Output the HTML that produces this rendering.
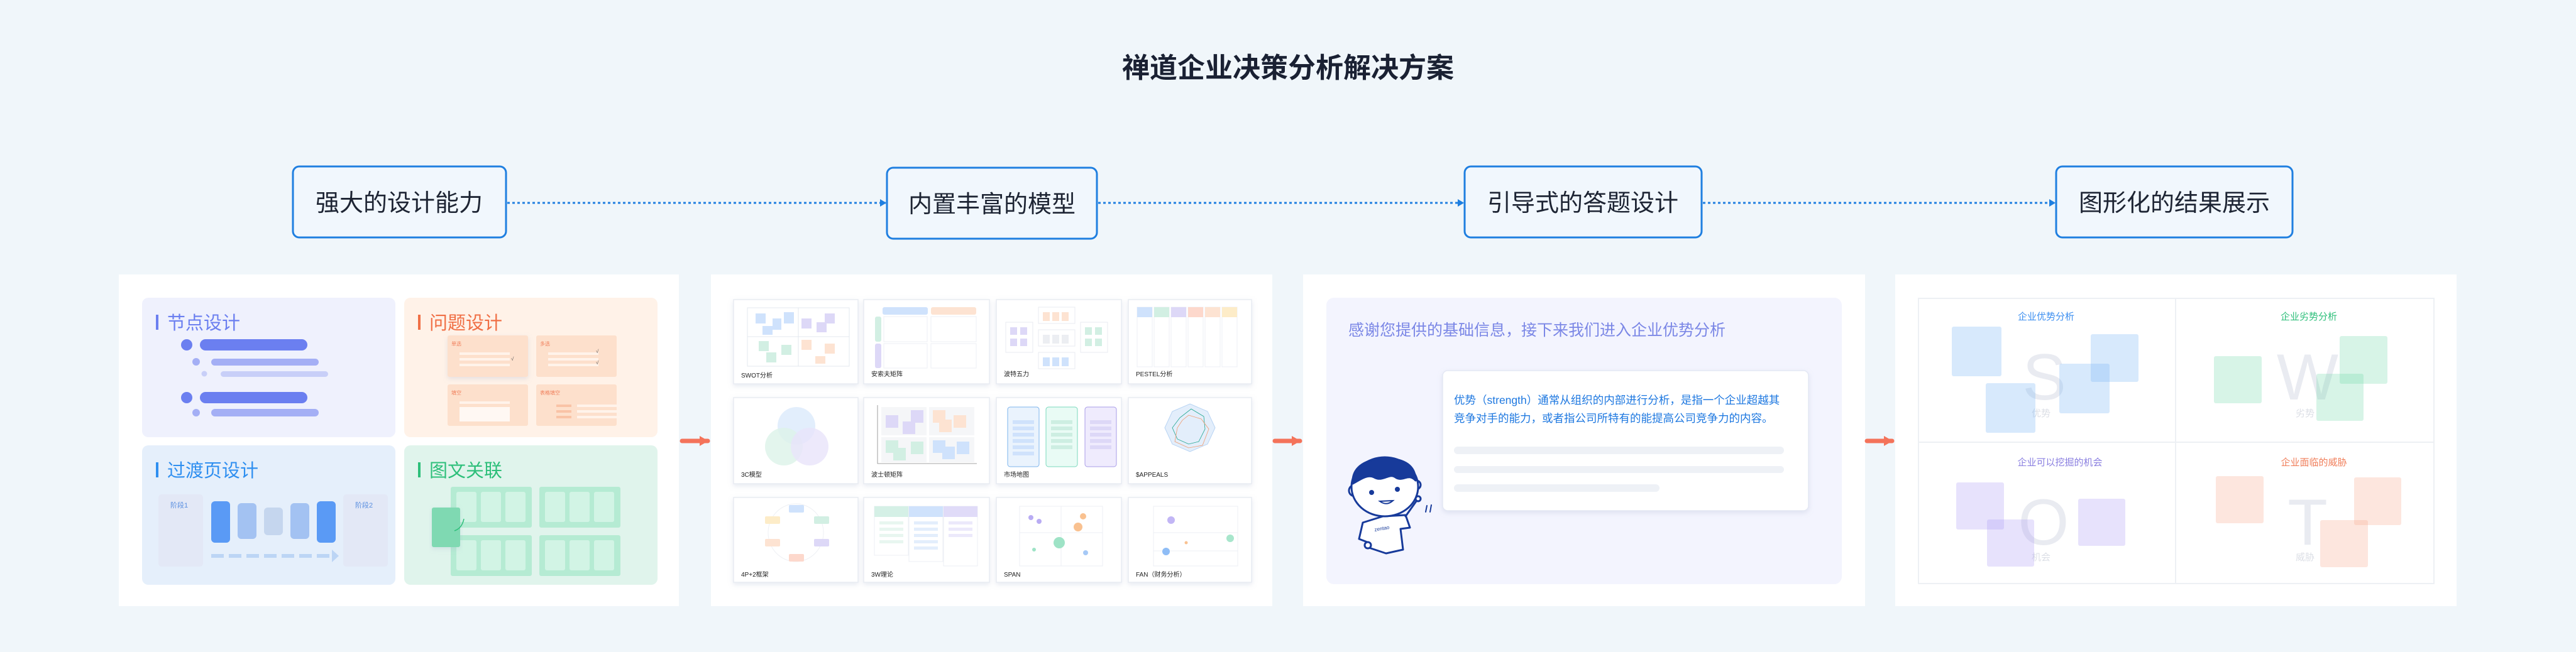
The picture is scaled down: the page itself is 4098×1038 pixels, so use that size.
<!DOCTYPE html>
<html><head><meta charset="utf-8"><style>
html,body{margin:0;padding:0;background:#f0f6fa;}
svg{display:block;}
text{font-family:"Liberation Sans","Noto Sans CJK SC",sans-serif;}
</style></head><body>
<svg width="4098" height="1038" viewBox="0 0 4098 1038" xmlns="http://www.w3.org/2000/svg">
<defs>
<marker id="ab" markerWidth="10" markerHeight="12" refX="9" refY="6" orient="auto" markerUnits="userSpaceOnUse"><path d="M0,0 L10,6 L0,12 Z" fill="#1f7fe0"/></marker>
<marker id="ao" markerWidth="14" markerHeight="16" refX="13" refY="8" orient="auto" markerUnits="userSpaceOnUse"><path d="M0,0 L14,8 L0,16 Z" fill="#f4735a"/></marker>
<filter id="sh" x="-10%" y="-10%" width="120%" height="130%"><feDropShadow dx="0" dy="3" stdDeviation="4" flood-color="#9aa8c8" flood-opacity="0.25"/></filter>
</defs>
<rect width="4098" height="1038" fill="#f0f6fa"/>
<text x="2049" y="123" font-size="44" font-weight="bold" fill="#1a2133" text-anchor="middle">禅道企业决策分析解决方案</text>

<!-- nodes -->
<g font-size="38" fill="#1d2433" text-anchor="middle">
<rect x="466" y="265" width="339" height="113" rx="10" fill="#f1f7fd" stroke="#1f7fe0" stroke-width="3"/>
<text x="635" y="336">强大的设计能力</text>
<rect x="1411" y="267" width="334" height="113" rx="10" fill="#f1f7fd" stroke="#1f7fe0" stroke-width="3"/>
<text x="1578" y="338">内置丰富的模型</text>
<rect x="2330" y="265" width="377" height="113" rx="10" fill="#f1f7fd" stroke="#1f7fe0" stroke-width="3"/>
<text x="2518" y="336">引导式的答题设计</text>
<rect x="3271" y="265" width="376" height="113" rx="10" fill="#f1f7fd" stroke="#1f7fe0" stroke-width="3"/>
<text x="3459" y="336">图形化的结果展示</text>
</g>
<g stroke="#1f7fe0" stroke-width="3" stroke-dasharray="4 4" fill="none">
<line x1="807" y1="323" x2="1409" y2="323" marker-end="url(#ab)"/>
<line x1="1747" y1="323" x2="2328" y2="323" marker-end="url(#ab)"/>
<line x1="2709" y1="323" x2="3269" y2="323" marker-end="url(#ab)"/>
</g>

<!-- panels -->
<rect x="189" y="437" width="891" height="528" fill="#ffffff"/>
<rect x="1131" y="437" width="893" height="528" fill="#ffffff"/>
<rect x="2073" y="437" width="894" height="528" fill="#ffffff"/>
<rect x="3015" y="437" width="893" height="528" fill="#ffffff"/>
<g stroke="#f4735a" stroke-width="7" stroke-linecap="round">
<line x1="1085" y1="702" x2="1126" y2="702" marker-end="url(#ao)"/>
<line x1="2028" y1="702" x2="2068" y2="702" marker-end="url(#ao)"/>
<line x1="2970" y1="702" x2="3010" y2="702" marker-end="url(#ao)"/>
</g>

<!-- PANEL 1 -->
<rect x="226" y="474" width="403" height="222" rx="10" fill="#eff1fd"/>
<rect x="643" y="474" width="403" height="222" rx="10" fill="#fff2e8"/>
<rect x="226" y="709" width="403" height="222" rx="10" fill="#e5effb"/>
<rect x="643" y="709" width="403" height="222" rx="10" fill="#e0f4ec"/>
<rect x="248" y="501" width="4" height="24" fill="#6b7ff0"/>
<text x="266" y="524" font-size="29" fill="#6b7ff0">节点设计</text>
<rect x="665" y="501" width="4" height="24" fill="#f06f45"/>
<text x="683" y="524" font-size="29" fill="#f06f45">问题设计</text>
<rect x="248" y="736" width="4" height="24" fill="#2f8ff0"/>
<text x="266" y="759" font-size="29" fill="#2f8ff0">过渡页设计</text>
<rect x="665" y="736" width="4" height="24" fill="#2dbf7a"/>
<text x="683" y="759" font-size="29" fill="#2dbf7a">图文关联</text>
<!-- card1 -->
<g transform="translate(226,474)">
<ellipse cx="71" cy="75" rx="9" ry="9" fill="#6b7ff0"/><rect x="92" y="66" width="171" height="18" rx="9" fill="#6b7ff0"/>
<circle cx="86" cy="102" r="6" fill="#a4aff5"/><rect x="110" y="97" width="171" height="11" rx="5.5" fill="#a4aff5"/>
<circle cx="99" cy="121" r="4.5" fill="#c8cff8"/><rect x="125" y="117" width="171" height="9" rx="4.5" fill="#c8cff8"/>
<circle cx="71" cy="159" r="9" fill="#6b7ff0"/><rect x="92" y="150" width="171" height="18" rx="9" fill="#6b7ff0"/>
<circle cx="86" cy="183" r="6" fill="#a4aff5"/><rect x="110" y="177" width="171" height="12" rx="6" fill="#a4aff5"/>
</g>
<!-- card2 -->
<g transform="translate(643,474)" font-size="8" fill="#f07e5a">
<rect x="69" y="60" width="128" height="66" rx="3" fill="#fde0cc" filter="url(#sh)"/>
<rect x="210" y="60" width="128" height="66" rx="3" fill="#fde0cc"/>
<rect x="69" y="138" width="128" height="66" rx="3" fill="#fde0cc"/>
<rect x="210" y="138" width="128" height="66" rx="3" fill="#fde0cc"/>
<text x="75" y="76">单选</text><text x="216" y="76">多选</text><text x="75" y="154">填空</text><text x="216" y="154">表格填空</text>
<g fill="#fff3ea"><rect x="88" y="87" width="80" height="4"/><rect x="88" y="96" width="80" height="4"/><rect x="88" y="105" width="80" height="4"/>
<rect x="229" y="87" width="80" height="4"/><rect x="229" y="96" width="80" height="4"/><rect x="229" y="105" width="80" height="4"/>
<rect x="88" y="165" width="80" height="4"/><rect x="88" y="174" width="80" height="23" fill="#fff8f3"/>
<rect x="275" y="170" width="68" height="4"/><rect x="275" y="179" width="68" height="4"/><rect x="275" y="188" width="68" height="4"/></g>
<g fill="#f9c3a6"><rect x="242" y="170" width="24" height="4"/><rect x="242" y="179" width="24" height="4"/><rect x="242" y="188" width="24" height="4"/></g>
<text x="170" y="100" fill="#555">√</text><text x="305" y="88" fill="#555">√</text><text x="305" y="106" fill="#555">√</text>
</g>
<!-- card3 -->
<g transform="translate(226,709)">
<rect x="26" y="78" width="71" height="115" rx="5" fill="#e3e8f6"/>
<rect x="320" y="78" width="71" height="115" rx="5" fill="#e3e8f6"/>
<text x="45" y="99" font-size="11" fill="#5a8fe0">阶段1</text><text x="339" y="99" font-size="11" fill="#5a8fe0">阶段2</text>
<rect x="110" y="89" width="30" height="66" rx="6" fill="#5a9af5"/>
<rect x="152" y="92" width="30" height="57" rx="6" fill="#a3c2f2"/>
<rect x="194" y="99" width="30" height="44" rx="6" fill="#c5d6ee"/>
<rect x="236" y="92" width="30" height="57" rx="6" fill="#a3c2f2"/>
<rect x="278" y="89" width="30" height="66" rx="6" fill="#5a9af5"/>
<line x1="110" y1="176" x2="300" y2="176" stroke="#bcd5f5" stroke-width="6" stroke-dasharray="20 8"/>
<path d="M302,166 L313,176 L302,186 Z" fill="#bcd5f5"/>
</g>
<!-- card4 -->
<g transform="translate(643,709)">
<g fill="#b5ebd3"><rect x="74" y="66" width="129" height="65" rx="3"/><rect x="215" y="66" width="129" height="65" rx="3"/><rect x="74" y="143" width="129" height="65" rx="3"/><rect x="215" y="143" width="129" height="65" rx="3"/></g>
<g fill="#d2f4e5">
<rect x="83" y="74" width="32" height="48" rx="3"/><rect x="122" y="74" width="32" height="48" rx="3"/><rect x="161" y="74" width="32" height="48" rx="3"/>
<rect x="224" y="74" width="32" height="48" rx="3"/><rect x="263" y="74" width="32" height="48" rx="3"/><rect x="302" y="74" width="32" height="48" rx="3"/>
<rect x="83" y="151" width="32" height="48" rx="3"/><rect x="122" y="151" width="32" height="48" rx="3"/><rect x="161" y="151" width="32" height="48" rx="3"/>
<rect x="224" y="151" width="32" height="48" rx="3"/><rect x="263" y="151" width="32" height="48" rx="3"/><rect x="302" y="151" width="32" height="48" rx="3"/>
</g>
<rect x="44" y="99" width="45" height="63" rx="3" fill="#7fd9b2" filter="url(#sh)"/>
<path d="M80,136 Q92,132 95,117" stroke="#2dbf7a" stroke-width="1.5" fill="none"/>
</g>

<!-- PANEL 2 -->
<g font-size="10" fill="#222">
<g fill="#fff" stroke="#e8ecf2" stroke-width="1.5" filter="url(#sh)">
<rect x="1167" y="477" width="198" height="134"/><rect x="1374" y="477" width="200" height="134"/><rect x="1585" y="477" width="199" height="134"/><rect x="1795" y="477" width="196" height="134"/>
<rect x="1167" y="633" width="198" height="137"/><rect x="1374" y="633" width="200" height="137"/><rect x="1585" y="633" width="199" height="137"/><rect x="1795" y="633" width="196" height="137"/>
<rect x="1167" y="792" width="198" height="135"/><rect x="1374" y="792" width="200" height="135"/><rect x="1585" y="792" width="199" height="135"/><rect x="1795" y="792" width="196" height="135"/>
</g>
<text x="1179" y="601">SWOT分析</text><text x="1386" y="599">安索夫矩阵</text><text x="1597" y="599">波特五力</text><text x="1807" y="599">PESTEL分析</text>
<text x="1179" y="759">3C模型</text><text x="1386" y="759">波士顿矩阵</text><text x="1597" y="759">市场地图</text><text x="1807" y="759">$APPEALS</text>
<text x="1179" y="918">4P+2框架</text><text x="1386" y="918">3W理论</text><text x="1597" y="918">SPAN</text><text x="1807" y="918">FAN（财务分析）</text>
</g>
<!-- SWOT mini -->
<g transform="translate(1167,477)">
<rect x="22" y="13" width="162" height="93" fill="none" stroke="#e3e8ef"/><line x1="103" y1="13" x2="103" y2="106" stroke="#e3e8ef"/><line x1="22" y1="59" x2="184" y2="59" stroke="#e3e8ef"/>
<g fill="#cfe2fc"><rect x="35" y="22" width="16" height="16"/><rect x="46" y="42" width="16" height="14"/><rect x="62" y="30" width="14" height="18"/><rect x="80" y="20" width="16" height="18"/></g>
<g fill="#ddd8f7"><rect x="108" y="30" width="16" height="16"/><rect x="132" y="36" width="16" height="16"/><rect x="145" y="22" width="16" height="16"/></g>
<g fill="#d2efe3"><rect x="40" y="66" width="16" height="16"/><rect x="52" y="84" width="16" height="16"/><rect x="76" y="72" width="16" height="16"/></g>
<g fill="#fde3d2"><rect x="108" y="64" width="16" height="16"/><rect x="130" y="90" width="16" height="12"/><rect x="145" y="70" width="16" height="16"/></g>
</g>
<!-- Ansoff -->
<g transform="translate(1374,477)">
<rect x="30" y="12" width="72" height="12" rx="3" fill="#cfe2fc"/><rect x="107" y="12" width="72" height="12" rx="3" fill="#fde3d2"/>
<rect x="18" y="27" width="10" height="40" rx="3" fill="#d2efe3"/><rect x="18" y="70" width="10" height="39" rx="3" fill="#ddd8f7"/>
<g fill="none" stroke="#eceff4"><rect x="32" y="27" width="69" height="40"/><rect x="107" y="27" width="72" height="40"/><rect x="32" y="70" width="69" height="39"/><rect x="107" y="70" width="72" height="39"/></g>
</g>
<!-- Porter -->
<g transform="translate(1585,477)">
<rect x="67" y="12" width="58" height="26" fill="none" stroke="#e8ebf0"/><g fill="#fde3d2"><rect x="74" y="20" width="11" height="14"/><rect x="89" y="20" width="11" height="14"/><rect x="104" y="20" width="11" height="14"/></g>
<rect x="67" y="48" width="58" height="26" fill="none" stroke="#e8ebf0"/><g fill="#eceef2"><rect x="74" y="56" width="11" height="14"/><rect x="89" y="56" width="11" height="14"/><rect x="104" y="56" width="11" height="14"/></g>
<rect x="67" y="84" width="58" height="26" fill="none" stroke="#e8ebf0"/><g fill="#cfe2fc"><rect x="74" y="92" width="11" height="14"/><rect x="89" y="92" width="11" height="14"/><rect x="104" y="92" width="11" height="14"/></g>
<rect x="15" y="36" width="43" height="48" fill="none" stroke="#e8ebf0"/><g fill="#ddd8f7"><rect x="22" y="44" width="11" height="12"/><rect x="38" y="44" width="11" height="12"/><rect x="22" y="62" width="11" height="12"/><rect x="38" y="62" width="11" height="12"/></g>
<rect x="134" y="36" width="43" height="48" fill="none" stroke="#e8ebf0"/><g fill="#d2efe3"><rect x="141" y="44" width="11" height="12"/><rect x="157" y="44" width="11" height="12"/><rect x="141" y="62" width="11" height="12"/><rect x="157" y="62" width="11" height="12"/></g>
</g>
<!-- PESTEL -->
<g transform="translate(1795,477)">
<g fill="none" stroke="#eceff4"><rect x="14" y="12" width="24" height="95"/><rect x="41" y="12" width="24" height="95"/><rect x="68" y="12" width="24" height="95"/><rect x="95" y="12" width="24" height="95"/><rect x="122" y="12" width="24" height="95"/><rect x="149" y="12" width="24" height="95"/></g>
<rect x="14" y="12" width="24" height="16" fill="#cfe2fc"/><rect x="41" y="12" width="24" height="16" fill="#d2efe3"/><rect x="68" y="12" width="24" height="16" fill="#ddd8f7"/><rect x="95" y="12" width="24" height="16" fill="#fdd8cc"/><rect x="122" y="12" width="24" height="16" fill="#fde3d2"/><rect x="149" y="12" width="24" height="16" fill="#fdecc8"/>
</g>
<!-- 3C -->
<g transform="translate(1167,633)" opacity="0.8">
<circle cx="100" cy="45" r="30" fill="#dbeafc"/><circle cx="80" cy="78" r="30" fill="#d4f0e4" opacity="0.8"/><circle cx="121" cy="78" r="30" fill="#e4ddfa" opacity="0.8"/>
</g>
<!-- BCG -->
<g transform="translate(1374,633)">
<path d="M22,12 L22,105 L180,105" stroke="#888" fill="none" stroke-width="0.8"/>
<rect x="28" y="15" width="72" height="45" fill="#f5f6f8"/><rect x="104" y="15" width="72" height="45" fill="#f5f6f8"/><rect x="28" y="63" width="72" height="40" fill="#f5f6f8"/><rect x="104" y="63" width="72" height="40" fill="#f5f6f8"/>
<g fill="#ddd8f7"><rect x="35" y="28" width="20" height="20"/><rect x="62" y="38" width="20" height="20"/><rect x="75" y="20" width="20" height="20"/></g>
<g fill="#fde3d2"><rect x="110" y="20" width="20" height="20"/><rect x="120" y="35" width="20" height="20"/><rect x="143" y="28" width="20" height="20"/></g>
<g fill="#d2efe3"><rect x="35" y="68" width="20" height="20"/><rect x="47" y="80" width="20" height="20"/><rect x="75" y="70" width="20" height="20"/></g>
<g fill="#cfe2fc"><rect x="110" y="68" width="20" height="20"/><rect x="125" y="78" width="20" height="20"/><rect x="148" y="70" width="20" height="20"/></g>
</g>
<!-- Market map -->
<g transform="translate(1585,633)">
<rect x="18" y="15" width="50" height="95" rx="4" fill="#eaf3fd" stroke="#7db4ec"/>
<rect x="79" y="15" width="50" height="95" rx="4" fill="#e9fbf5" stroke="#7ad8bd"/>
<rect x="141" y="15" width="50" height="95" rx="4" fill="#efebfd" stroke="#a99ce8"/>
<g fill="#cfe2fc"><rect x="26" y="36" width="34" height="6"/><rect x="26" y="46" width="34" height="6"/><rect x="26" y="56" width="34" height="6"/><rect x="26" y="66" width="34" height="6"/><rect x="26" y="76" width="34" height="6"/><rect x="26" y="86" width="34" height="6"/></g>
<g fill="#cdeee2"><rect x="87" y="36" width="34" height="6"/><rect x="87" y="46" width="34" height="6"/><rect x="87" y="56" width="34" height="6"/><rect x="87" y="66" width="34" height="6"/><rect x="87" y="76" width="34" height="6"/></g>
<g fill="#ddd8f7"><rect x="149" y="36" width="34" height="6"/><rect x="149" y="46" width="34" height="6"/><rect x="149" y="56" width="34" height="6"/><rect x="149" y="66" width="34" height="6"/><rect x="149" y="76" width="34" height="6"/></g>
</g>
<!-- APPEALS -->
<g transform="translate(1795,633)">
<polygon points="98,10 126,22 138,48 126,74 98,86 70,74 58,48 70,22" fill="#e3eefb" stroke="#b8d4f3"/>
<polygon points="100,18 120,30 122,50 112,70 96,74 78,66 70,48 82,32" fill="none" stroke="#1fa58e" stroke-width="0.8"/>
<polygon points="96,28 116,34 128,50 118,76 96,80 74,70 78,48 86,36" fill="none" stroke="#f09c70" stroke-width="0.8"/>
</g>
<!-- 4P+2 -->
<g transform="translate(1167,792)" font-size="5">
<ellipse cx="99" cy="56" rx="44" ry="46" fill="none" stroke="#eef0f4"/>
<rect x="88" y="12" width="24" height="12" rx="2" fill="#cfe2fc"/><rect x="50" y="30" width="24" height="12" rx="2" fill="#fdecc8"/><rect x="128" y="30" width="24" height="12" rx="2" fill="#d2efe3"/>
<rect x="50" y="66" width="24" height="12" rx="2" fill="#fde3d2"/><rect x="128" y="66" width="24" height="12" rx="2" fill="#ddd8f7"/><rect x="88" y="90" width="24" height="12" rx="2" fill="#fdd8cc"/>
</g>
<!-- 3W -->
<g transform="translate(1374,792)">
<rect x="17" y="14" width="54" height="78" fill="#fff" stroke="#eceff4"/><rect x="72" y="14" width="54" height="88" fill="#fff" stroke="#eceff4"/><rect x="127" y="14" width="54" height="95" fill="#fff" stroke="#eceff4"/>
<rect x="17" y="14" width="54" height="17" fill="#d5f0e6"/><rect x="72" y="14" width="54" height="17" fill="#cfe2fc"/><rect x="127" y="14" width="54" height="17" fill="#e0dbf8"/>
<g fill="#e8f6f0"><rect x="25" y="38" width="38" height="5"/><rect x="25" y="48" width="38" height="5"/><rect x="25" y="58" width="38" height="5"/><rect x="25" y="68" width="38" height="5"/></g>
<g fill="#e3eefc"><rect x="80" y="38" width="38" height="5"/><rect x="80" y="48" width="38" height="5"/><rect x="80" y="58" width="38" height="5"/><rect x="80" y="68" width="38" height="5"/><rect x="80" y="78" width="38" height="5"/></g>
<g fill="#ece9fb"><rect x="135" y="38" width="38" height="5"/><rect x="135" y="48" width="38" height="5"/><rect x="135" y="58" width="38" height="5"/></g>
</g>
<!-- SPAN -->
<g transform="translate(1585,792)">
<rect x="37" y="14" width="132" height="95" fill="none" stroke="#eceff4"/><line x1="103" y1="14" x2="103" y2="109" stroke="#eceff4"/><line x1="37" y1="56" x2="169" y2="56" stroke="#eceff4"/>
<circle cx="55" cy="32" r="4" fill="#b9acf3"/><circle cx="68" cy="38" r="4" fill="#b9acf3"/><circle cx="138" cy="30" r="5" fill="#f9c190"/><circle cx="130" cy="47" r="7" fill="#f9c190"/><circle cx="100" cy="72" r="9" fill="#9ee3c6"/><circle cx="60" cy="83" r="3" fill="#9ee3c6"/><circle cx="142" cy="88" r="4" fill="#a6c9f6"/>
</g>
<!-- FAN -->
<g transform="translate(1795,792)">
<rect x="40" y="14" width="134" height="95" fill="none" stroke="#eceff4"/><line x1="40" y1="56" x2="174" y2="56" stroke="#eceff4"/><line x1="40" y1="85" x2="174" y2="85" stroke="#eceff4"/>
<circle cx="68" cy="36" r="6" fill="#c2b6f5"/><circle cx="162" cy="65" r="6" fill="#a8e6cc"/><circle cx="92" cy="72" r="2.5" fill="#f9c190"/><circle cx="60" cy="86" r="6" fill="#8fbdf6"/>
</g>

<!-- PANEL 3 -->
<rect x="2110" y="474" width="820" height="456" rx="12" fill="#f3f4fe"/>
<text x="2145" y="534" font-size="25" fill="#7b87e6">感谢您提供的基础信息，接下来我们进入企业优势分析</text>
<rect x="2295" y="590" width="582" height="223" rx="8" fill="#ffffff" stroke="#e4e8f4" stroke-width="1.5" filter="url(#sh)"/>
<text x="2313" y="643" font-size="17.5" fill="#1e78e0">优势（strength）通常从组织的内部进行分析，是指一个企业超越其</text>
<text x="2313" y="672" font-size="17.5" fill="#1e78e0">竞争对手的能力，或者指公司所特有的能提高公司竞争力的内容。</text>
<rect x="2313" y="711" width="525" height="12" rx="6" fill="#eef1f6"/>
<rect x="2313" y="742" width="525" height="11" rx="5.5" fill="#eef1f6"/>
<rect x="2313" y="771" width="327" height="12" rx="6" fill="#eef1f6"/>
<!-- character -->
<g stroke="#173a9a" stroke-width="3" fill="#fff" stroke-linejoin="round" stroke-linecap="round">
<path d="M2168,832 L2162,858 L2175,863 L2178,872 L2205,881 L2232,875 L2228,842 L2243,840 L2236,820 L2200,822 Z"/>
<path d="M2236,822 L2253,798 L2258,792" fill="none"/>
<circle cx="2256" cy="794" r="4"/>
<circle cx="2176" cy="868" r="5"/>
<circle cx="2155" cy="781" r="9"/>
<circle cx="2253" cy="772" r="7"/>
<ellipse cx="2203" cy="775" rx="53" ry="47"/>
<path d="M2152,770 C2150,742 2175,730 2205,730 C2235,730 2252,742 2252,765 C2240,752 2232,768 2220,760 C2210,752 2200,768 2186,760 C2175,754 2162,765 2152,770 Z" fill="#173a9a"/>
<path d="M2270,805 l-2,10 M2277,804 l-2,11" fill="none" stroke-width="2"/>
</g>
<circle cx="2182" cy="784" r="4" fill="#173a9a"/><circle cx="2223" cy="779" r="4" fill="#173a9a"/>
<path d="M2195,798 Q2206,806 2216,797 Z" fill="#fff" stroke="#173a9a" stroke-width="2"/>
<text x="2187" y="846" font-size="8" fill="#173a9a" transform="rotate(-10 2187 846)">zentao</text>

<!-- PANEL 4 -->
<rect x="3052" y="475" width="820" height="454" fill="#fff" stroke="#edf0f4" stroke-width="2"/>
<line x1="3461" y1="475" x2="3461" y2="929" stroke="#edf0f4" stroke-width="2"/>
<line x1="3052" y1="704" x2="3872" y2="704" stroke="#edf0f4" stroke-width="2"/>
<g font-size="15" text-anchor="middle">
<text x="3255" y="509" fill="#3d8ff0">企业优势分析</text>
<text x="3673" y="509" fill="#2dbf7a">企业劣势分析</text>
<text x="3277" y="741" fill="#8a7fe0">企业可以挖掘的机会</text>
<text x="3681" y="741" fill="#f07e5a">企业面临的威胁</text>
</g>
<g font-size="104" fill="#e9ebf1" text-anchor="middle">
<text x="3252" y="636">S</text><text x="3671" y="636">W</text><text x="3251" y="867">O</text><text x="3671" y="867">T</text>
</g>
<g font-size="15" fill="#dcdfe6" text-anchor="middle">
<text x="3247" y="663">优势</text><text x="3667" y="663">劣势</text><text x="3247" y="892">机会</text><text x="3667" y="892">威胁</text>
</g>
<g fill="#7ab6f6" fill-opacity="0.3">
<rect x="3105" y="520" width="79" height="79" rx="3"/><rect x="3159" y="610" width="79" height="79" rx="3"/><rect x="3276" y="579" width="80" height="79" rx="3"/><rect x="3326" y="532" width="76" height="76" rx="3"/>
</g>
<g fill="#5fd3a0" fill-opacity="0.25">
<rect x="3522" y="567" width="76" height="75" rx="3"/><rect x="3722" y="535" width="76" height="76" rx="3"/><rect x="3685" y="595" width="75" height="75" rx="3"/>
</g>
<g fill="#a898f6" fill-opacity="0.28">
<rect x="3112" y="768" width="76" height="75" rx="3"/><rect x="3161" y="827" width="75" height="75" rx="3"/><rect x="3306" y="794" width="75" height="75" rx="3"/>
</g>
<g fill="#f9a48a" fill-opacity="0.28">
<rect x="3525" y="758" width="76" height="75" rx="3"/><rect x="3745" y="760" width="75" height="76" rx="3"/><rect x="3691" y="828" width="76" height="75" rx="3"/>
</g>
</svg>
</body></html>
